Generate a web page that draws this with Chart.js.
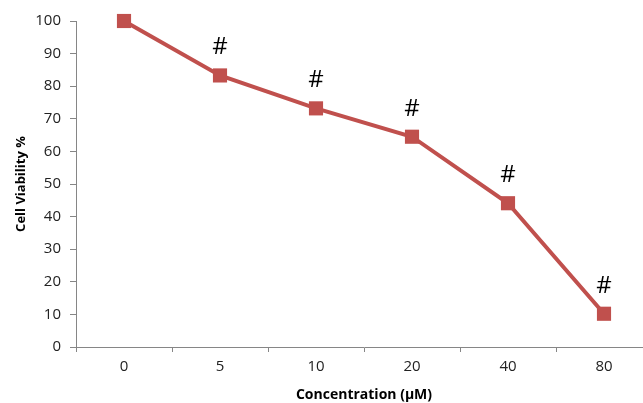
<!DOCTYPE html>
<html>
<head>
<meta charset="utf-8">
<script src="https://cdn.jsdelivr.net/npm/chart.js@4.4.0/dist/chart.umd.min.js"></script>
<style>
  html, body { margin: 0; padding: 0; background: #fff; overflow: hidden; }
  #wrap { width: 662px; height: 403px; }
</style>
</head>
<body>
<div id="wrap"><canvas id="chart"></canvas></div>
<script>
// data
const concentrations = ['0', '5', '10', '20', '40', '80'];
const viability = [100, 83.3, 73.2, 64.5, 44.1, 10.2];
const marks = ['', '#', '#', '#', '#', '#'];
const yTicks = [0, 10, 20, 30, 40, 50, 60, 70, 80, 90, 100];

const red = '#c0504d';
const axisGray = '#868686';

// draws the "#" above each point
const hashPlugin = {
  id: 'hashMarks',
  afterDatasetsDraw(chart) {
    const ctx = chart.ctx;
    const meta = chart.getDatasetMeta(0);
    ctx.save();
    ctx.font = '500 24px "Open Sans", sans-serif';
    ctx.fillStyle = '#000';
    ctx.textAlign = 'center';
    ctx.textBaseline = 'middle';
    meta.data.forEach((pt, i) => {
      if (marks[i]) ctx.fillText(marks[i], pt.x, pt.y - 28);
    });
    ctx.restore();
  }
};

const ctx = document.getElementById('chart').getContext('2d');
new Chart(ctx, {
  type: 'line',
  data: {
    labels: concentrations,
    datasets: [{
      data: viability,
      borderColor: red,
      backgroundColor: red,
      borderWidth: 4,
      pointStyle: 'rect',
      pointRadius: 10,
      pointBorderWidth: 0,
      tension: 0,
      clip: false
    }]
  },
  options: {
    responsive: true,
    maintainAspectRatio: false,
    animation: false,
    layout: { padding: { top: 21, right: 8, left: 0, bottom: 0 } },
    plugins: { legend: { display: false }, tooltip: { enabled: false } },
    scales: {
      x: {
        offset: true,
        grid: { display: true, drawOnChartArea: false, offset: true, tickLength: 5, color: axisGray },
        border: { color: axisGray, width: 1 },
        ticks: { color: '#222', font: { family: 'Open Sans', size: 15 }, padding: 6 },
        title: {
          display: true,
          text: 'Concentration (μM)',
          color: '#000',
          font: { family: 'Open Sans', size: 14, weight: 'bold' },
          padding: 0
        },
        afterFit(scale) { scale.height = 56; }
      },
      y: {
        min: 0,
        max: 100,
        afterBuildTicks(scale) { scale.ticks = yTicks.map(v => ({ value: v })); },
        grid: { display: true, drawOnChartArea: false, tickLength: 6, color: axisGray },
        border: { color: axisGray, width: 1 },
        ticks: { color: '#222', font: { family: 'Open Sans', size: 15 }, padding: 9 },
        title: {
          display: true,
          text: 'Cell Viability %',
          color: '#000',
          font: { family: 'Open Sans', size: 13, weight: 'bold' },
          padding: { top: 13, bottom: 0 }
        },
        afterFit(scale) { scale.width = 76; }
      }
    }
  },
  plugins: [hashPlugin]
});
</script>
</body>
</html>
